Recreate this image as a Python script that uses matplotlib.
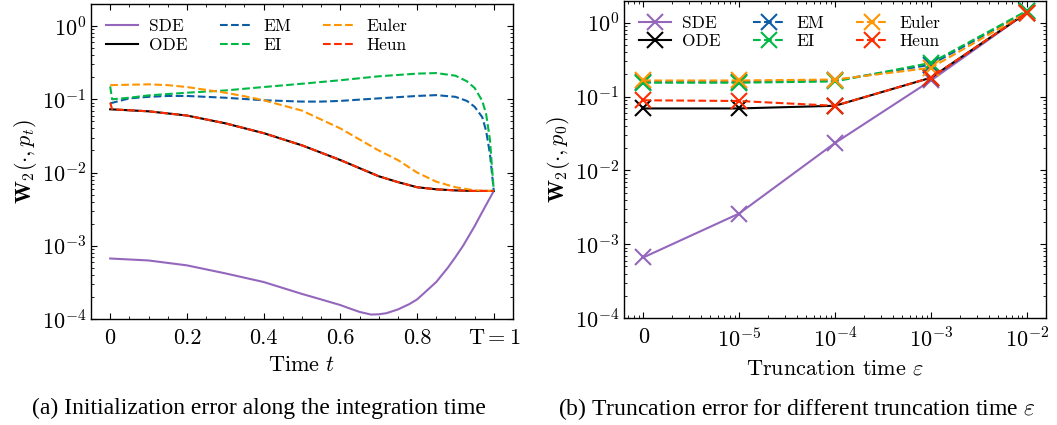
import matplotlib
matplotlib.use('Agg')
import matplotlib.pyplot as plt
from matplotlib.ticker import MultipleLocator, LogLocator, FixedLocator, FixedFormatter, NullFormatter

plt.rcParams.update({
    'font.family': 'serif',
    'font.serif': ['cmr10'],
    'mathtext.fontset': 'cm',
    'axes.formatter.use_mathtext': True,
    'axes.unicode_minus': False,
    'xtick.direction': 'in',
    'ytick.direction': 'in',
    'xtick.top': True,
    'ytick.right': True,
    'xtick.major.size': 4,
    'ytick.major.size': 4,
    'xtick.minor.size': 2,
    'ytick.minor.size': 2,
    'xtick.minor.visible': True,
    'ytick.minor.visible': True,
    'axes.linewidth': 1.0,
    'lines.linewidth': 1.5,
})

# ---- (a) initialization error along the integration time ----
t_sde = [0, 0.1, 0.2, 0.3, 0.4, 0.5, 0.55, 0.6, 0.62, 0.65, 0.68, 0.7, 0.72, 0.75,
         0.78, 0.8, 0.82, 0.85, 0.88, 0.9, 0.92, 0.95, 0.97, 1.0]
w_sde = [6.7e-4, 6.3e-4, 5.4e-4, 4.2e-4, 3.2e-4, 2.2e-4, 1.85e-4, 1.55e-4, 1.42e-4,
         1.25e-4, 1.15e-4, 1.16e-4, 1.2e-4, 1.35e-4, 1.6e-4, 1.85e-4, 2.3e-4,
         3.2e-4, 5.0e-4, 7.0e-4, 1.0e-3, 1.85e-3, 2.9e-3, 5.6e-3]

t_ode = [0, 0.1, 0.2, 0.3, 0.4, 0.5, 0.6, 0.7, 0.75, 0.8, 0.85, 0.9, 0.95, 1.0]
w_ode = [0.073, 0.0685, 0.06, 0.047, 0.0345, 0.0235, 0.0148, 0.0089, 0.0074,
         0.0063, 0.0059, 0.0057, 0.0056, 0.0056]

t_em = [0, 0.05, 0.1, 0.15, 0.2, 0.3, 0.4, 0.5, 0.55, 0.6, 0.7, 0.8, 0.85, 0.9,
        0.93, 0.95, 0.97, 0.98, 0.99, 1.0]
w_em = [0.088, 0.103, 0.108, 0.111, 0.111, 0.105, 0.097, 0.093, 0.093, 0.095,
        0.103, 0.111, 0.114, 0.108, 0.095, 0.079, 0.057, 0.037, 0.018, 0.0056]

t_ei = [0, 0.005, 0.05, 0.1, 0.2, 0.3, 0.4, 0.5, 0.6, 0.7, 0.8, 0.85, 0.9, 0.93,
        0.95, 0.97, 0.98, 0.99, 1.0]
w_ei = [0.15, 0.1, 0.105, 0.113, 0.123, 0.132, 0.147, 0.163, 0.182, 0.206,
        0.224, 0.228, 0.21, 0.176, 0.143, 0.095, 0.063, 0.028, 0.0056]

t_euler = [0, 0.1, 0.15, 0.2, 0.3, 0.35, 0.4, 0.5, 0.6, 0.7, 0.75, 0.8, 0.85,
           0.9, 0.95, 1.0]
w_euler = [0.156, 0.16, 0.156, 0.147, 0.123, 0.11, 0.097, 0.07, 0.04, 0.02,
           0.0148, 0.01, 0.0075, 0.0063, 0.0057, 0.0056]

t_heun = [0, 0.005] + t_ode[1:]
w_heun = [0.09, 0.073] + w_ode[1:]

# ---- (b) truncation error for different truncation time ----
eps_labels = ['0', '$10^{-5}$', '$10^{-4}$', '$10^{-3}$', '$10^{-2}$']
eps = [1e-6, 1e-5, 1e-4, 1e-3, 1e-2]   # 0 is drawn at 1e-6 on the log axis
b_sde = [6.6e-4, 2.6e-3, 0.0235, 0.165, 1.37]
b_ode = [0.069, 0.069, 0.075, 0.18, 1.37]
b_em = [0.157, 0.157, 0.165, 0.27, 1.42]
b_ei = [0.154, 0.154, 0.16, 0.286, 1.45]
b_euler = [0.165, 0.165, 0.17, 0.245, 1.37]
b_heun = [0.089, 0.087, 0.075, 0.18, 1.37]

C_SDE, C_ODE, C_EM = '#9467bd', 'black', '#0C5DA5'
C_EI, C_EULER, C_HEUN = '#00B945', '#FF9500', '#FF2C00'

fig = plt.figure(figsize=(10.57, 4.25), dpi=100)
ax1 = fig.add_axes([0.0861, 0.2494, 0.3992, 0.7412])
ax2 = fig.add_axes([0.5904, 0.2518, 0.3992, 0.7470])

ax1.plot(t_sde, w_sde, '-', color=C_SDE, label='SDE')
ax1.plot(t_ode, w_ode, '-', color=C_ODE, label='ODE')
ax1.plot(t_em, w_em, '--', color=C_EM, label='EM')
ax1.plot(t_ei, w_ei, '--', color=C_EI, label='EI')
ax1.plot(t_euler, w_euler, '--', color=C_EULER, label='Euler')
ax1.plot(t_heun, w_heun, '--', color=C_HEUN, label='Heun')
ax1.set_yscale('log')
ax1.set_ylim(1e-4, 2)
ax1.set_xlim(-0.05, 1.05)
ax1.xaxis.set_major_locator(FixedLocator([0, 0.2, 0.4, 0.6, 0.8, 1.0]))
ax1.xaxis.set_major_formatter(FixedFormatter(['0', '0.2', '0.4', '0.6', '0.8', r'$\mathrm{T} = 1$']))
ax1.xaxis.set_minor_locator(MultipleLocator(0.05))
ax1.set_xlabel('Time $t$', fontsize=16, labelpad=5)
ax1.set_ylabel(r'$\mathbf{W}_2(\cdot, p_t)$', fontsize=16, labelpad=2)

mk = dict(marker='x', markersize=11, markeredgewidth=1.5)
ax2.plot(eps, b_sde, '-', color=C_SDE, label='SDE', **mk)
ax2.plot(eps, b_ode, '-', color=C_ODE, label='ODE', **mk)
ax2.plot(eps, b_em, '--', color=C_EM, label='EM', **mk)
ax2.plot(eps, b_ei, '--', color=C_EI, label='EI', **mk)
ax2.plot(eps, b_euler, '--', color=C_EULER, label='Euler', **mk)
ax2.plot(eps, b_heun, '--', color=C_HEUN, label='Heun', **mk)
ax2.set_xscale('log')
ax2.set_yscale('log')
ax2.set_ylim(1e-4, 2)
ax2.set_xlim(10 ** -6.2, 10 ** -1.8)
ax2.xaxis.set_major_locator(FixedLocator(eps))
ax2.xaxis.set_major_formatter(FixedFormatter(eps_labels))
ax2.xaxis.set_minor_locator(LogLocator(base=10, subs=range(2, 10), numticks=20))
ax2.xaxis.set_minor_formatter(NullFormatter())
ax2.set_xlabel(r'Truncation time $\varepsilon$', fontsize=16, labelpad=5)
ax2.set_ylabel(r'$\mathbf{W}_2(\cdot, p_0)$', fontsize=16, labelpad=2)

for ax in (ax1, ax2):
    ax.yaxis.set_major_locator(LogLocator(base=10, numticks=10))
    ax.yaxis.set_minor_locator(LogLocator(base=10, subs=range(2, 10), numticks=20))
    ax.yaxis.set_minor_formatter(NullFormatter())
    ax.tick_params(which='both', labelsize=16)
    ax.tick_params(axis='x', which='major', pad=7)
    ax.legend(loc='upper left', ncol=3, frameon=False, fontsize=12.5,
              handlelength=1.85, handletextpad=0.65, columnspacing=1.85,
              borderaxespad=0.45, labelspacing=0.2)

fig.text(0.245, 0.038, '(a) Initialization error along the integration time',
         ha='center', va='center', fontsize=17, family='Liberation Serif')
fig.text(0.754, 0.038, r'(b) Truncation error for different truncation time $\varepsilon$',
         ha='center', va='center', fontsize=17, family='Liberation Serif')

fig.savefig('out.png', dpi=100)
